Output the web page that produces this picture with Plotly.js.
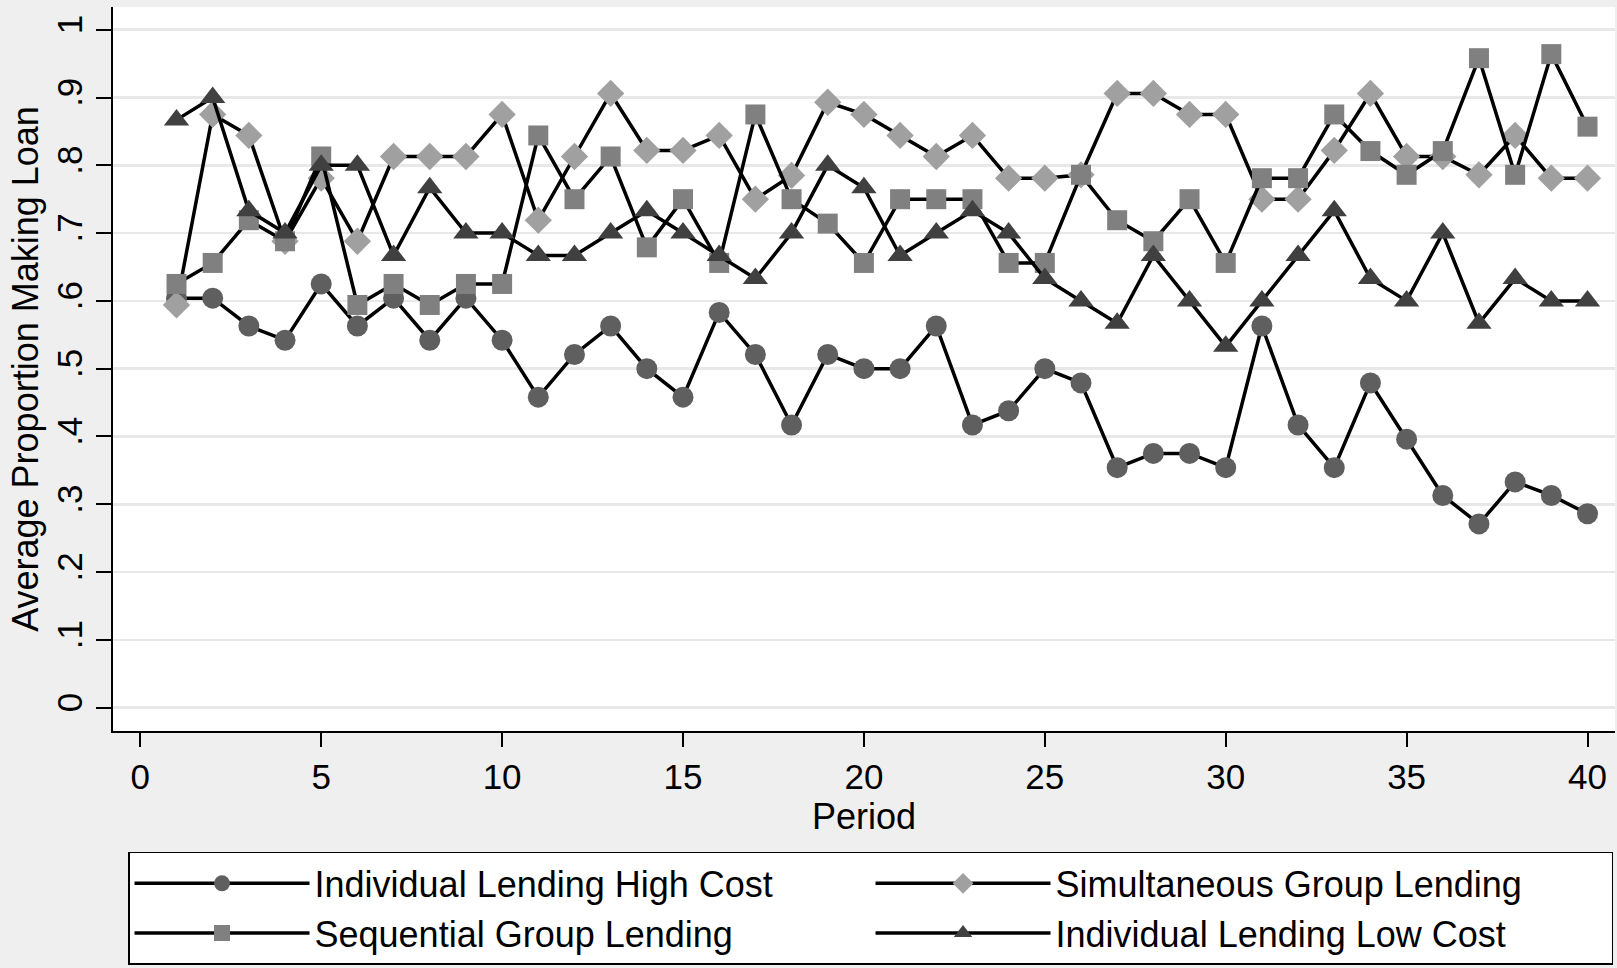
<!DOCTYPE html>
<html>
<head>
<meta charset="utf-8">
<script src="https://cdn.plot.ly/plotly-3.0.1.min.js"></script>
<style>html,body{margin:0;padding:0;background:#efefef;}#chart{width:1617px;height:968px;}</style>
</head>
<body>
<div id="chart"></div>
<script>
var periods = [1,2,3,4,5,6,7,8,9,10,11,12,13,14,15,16,17,18,19,20,21,22,23,24,25,26,27,28,29,30,31,32,33,34,35,36,37,38,39,40];
var highCost = [0.604,0.604,0.563,0.542,0.625,0.563,0.604,0.542,0.604,0.542,0.458,0.521,0.563,0.5,0.458,0.583,0.521,0.417,0.521,0.5,0.5,0.563,0.417,0.438,0.5,0.479,0.354,0.375,0.375,0.354,0.563,0.417,0.354,0.479,0.396,0.313,0.271,0.333,0.313,0.286];
var simultaneous = [0.594,0.875,0.844,0.688,0.781,0.688,0.813,0.813,0.813,0.875,0.719,0.813,0.906,0.822,0.822,0.844,0.75,0.785,0.893,0.875,0.844,0.813,0.844,0.781,0.781,0.786,0.906,0.906,0.875,0.875,0.75,0.75,0.822,0.906,0.813,0.813,0.786,0.844,0.781,0.781];
var sequential = [0.625,0.656,0.719,0.688,0.813,0.594,0.625,0.594,0.625,0.625,0.844,0.75,0.813,0.679,0.75,0.656,0.875,0.75,0.714,0.656,0.75,0.75,0.75,0.656,0.656,0.786,0.719,0.688,0.75,0.656,0.781,0.781,0.875,0.821,0.786,0.821,0.958,0.786,0.964,0.857];
var lowCost = [0.867,0.9,0.733,0.7,0.8,0.8,0.667,0.767,0.7,0.7,0.667,0.667,0.7,0.733,0.7,0.667,0.633,0.7,0.8,0.767,0.667,0.7,0.733,0.7,0.633,0.6,0.567,0.667,0.6,0.533,0.6,0.667,0.733,0.633,0.6,0.7,0.567,0.633,0.6,0.6];
var seriesNames = ["Individual Lending High Cost","Simultaneous Group Lending","Sequential Group Lending","Individual Lending Low Cost"];
var yTickVals = [0,0.1,0.2,0.3,0.4,0.5,0.6,0.7,0.8,0.9,1];
var yTickText = ["0",".1",".2",".3",".4",".5",".6",".7",".8",".9","1"];
var xTickVals = [0,5,10,15,20,25,30,35,40];

var FONT = "Liberation Sans, Arial, Helvetica, sans-serif";
function mk(name, y, symbol, color, size){
  return {
    x: periods, y: y, name: name, type: "scatter", mode: "lines+markers",
    line: {color: "#000000", width: 3.5},
    marker: {symbol: symbol, color: color, size: size, line: {width: 0}},
    cliponaxis: false
  };
}
var data = [
  mk(seriesNames[0], highCost, "circle", "#5f5f5f", 21),
  mk(seriesNames[1], simultaneous, "diamond", "#a0a0a0", 21),
  mk(seriesNames[2], sequential, "square", "#808080", 20),
  mk(seriesNames[3], lowCost, "triangle-up", "#404040", 22)
];
var layout = {
  width: 1617, height: 968,
  paper_bgcolor: "#efefef", plot_bgcolor: "#ffffff",
  margin: {l: 113, r: 2, t: 7, b: 237},
  font: {family: FONT, size: 36, color: "#000000"},
  showlegend: true,
  xaxis: {
    range: [-0.755, 40.76], tickmode: "array", tickvals: xTickVals,
    showgrid: false, zeroline: false, showline: true, linecolor: "#000000", linewidth: 2,
    ticks: "outside", ticklen: 14, tickwidth: 2, tickcolor: "#000000",
    tickfont: {family: FONT, size: 35},
    title: {text: "Period", font: {family: FONT, size: 36}, standoff: 0},
    automargin: false
  },
  yaxis: {
    range: [-0.0344, 1.0335], tickmode: "array", tickvals: yTickVals, ticktext: yTickText,
    tickangle: -90,
    showgrid: true, gridcolor: "#e8e8e8", gridwidth: 2.5,
    zeroline: false, showline: true, linecolor: "#000000", linewidth: 2,
    ticks: "outside", ticklen: 15, tickwidth: 2, tickcolor: "#000000",
    tickfont: {family: FONT, size: 35},
    title: {text: "Average Proportion Making Loan", font: {family: FONT, size: 36}, standoff: 0},
    automargin: false
  },
  legend: {
    orientation: "h", x: 0.01, xanchor: "left", y: -0.167, yanchor: "top",
    bgcolor: "#ffffff", bordercolor: "#000000", borderwidth: 1.5,
    font: {family: FONT, size: 36},
    itemwidth: 175, entrywidth: 551, entrywidthmode: "pixels",
    traceorder: "normal"
  }
};
Plotly.newPlot("chart", data, layout, {displayModeBar: false, staticPlot: true});
</script>
</body>
</html>
